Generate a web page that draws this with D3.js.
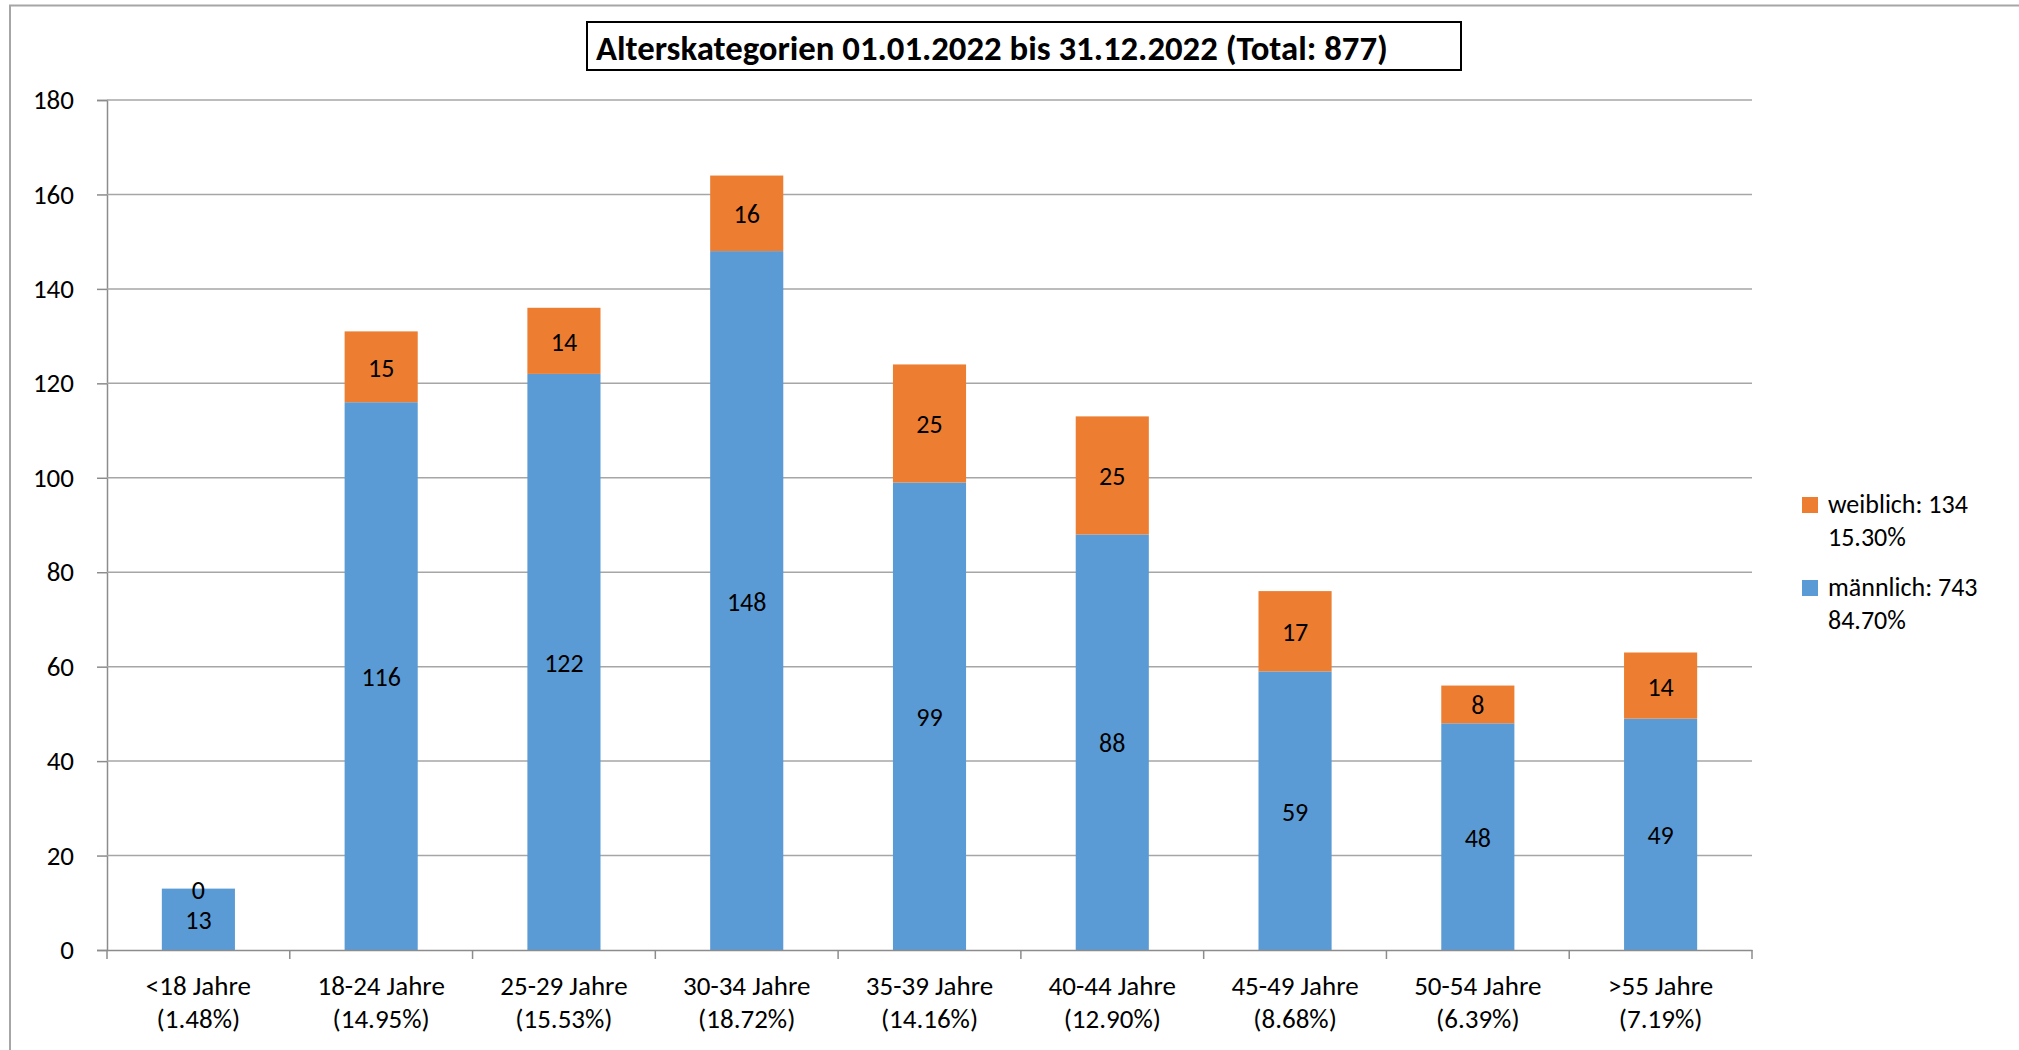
<!DOCTYPE html>
<html>
<head>
<meta charset="utf-8">
<script src="https://cdn.jsdelivr.net/npm/d3@7"></script>
<style>
  body { margin: 0; background: #fff; }
  svg { display: block; font-family: Carlito, Calibri, Lato, sans-serif; }
</style>
</head>
<body>
<div id="chart"></div>
<script>
const categories = ["<18 Jahre", "18-24 Jahre", "25-29 Jahre", "30-34 Jahre", "35-39 Jahre",
  "40-44 Jahre", "45-49 Jahre", "50-54 Jahre", ">55 Jahre"];
const shares = ["(1.48%)", "(14.95%)", "(15.53%)", "(18.72%)", "(14.16%)",
  "(12.90%)", "(8.68%)", "(6.39%)", "(7.19%)"];
const maennlich = [13, 116, 122, 148, 99, 88, 59, 48, 49];
const weiblich = [0, 15, 14, 16, 25, 25, 17, 8, 14];
const yTicks = [0, 20, 40, 60, 80, 100, 120, 140, 160, 180];
const legendItems = [
  {key: "weiblich", lines: ["weiblich: 134", "15.30%"]},
  {key: "maennlich", lines: ["männlich: 743", "84.70%"]}
];
const title = "Alterskategorien 01.01.2022 bis 31.12.2022 (Total: 877)";

const W = 2019, H = 1050;
const m = {left: 107, right: 2019 - 1752, top: 100, bottom: 1050 - 950};
const colors = {maennlich: "#5B9BD5", weiblich: "#ED7D31"};

const rows = categories.map((c, i) => ({cat: c, maennlich: maennlich[i], weiblich: weiblich[i]}));
const series = d3.stack().keys(["maennlich", "weiblich"])(rows);

const svg = d3.select("#chart").append("svg")
  .attr("width", W).attr("height", H);

// outer chart border (runs off the picture right and bottom)
svg.append("path")
  .attr("d", `M10,${H + 5}V5.5H${W + 5}`)
  .attr("fill", "none").attr("stroke", "#a6a6a6").attr("stroke-width", 2);

const x = d3.scaleBand().domain(categories).range([m.left, W - m.right]).paddingInner(0.6).paddingOuter(0.3);
const xb = d3.scaleBand().domain(categories).range([m.left, W - m.right]);
const y = d3.scaleLinear().domain([0, 180]).range([H - m.bottom, m.top]);

// gridlines + y axis
const yAxis = svg.append("g")
  .attr("transform", `translate(${m.left},0)`)
  .call(d3.axisLeft(y).tickValues(yTicks).tickSize(10).tickPadding(23));
yAxis.select(".domain").attr("stroke", "#8c8c8c").attr("stroke-width", 1.5);
yAxis.selectAll(".tick line").attr("stroke", "#8c8c8c").attr("stroke-width", 1.5);
yAxis.selectAll(".tick text").attr("font-size", 27).attr("fill", "#000")
  .style("font-family", "Carlito, Calibri, Lato, sans-serif");

svg.append("g").selectAll("line")
  .data(yTicks.filter(t => t > 0))
  .join("line")
  .attr("x1", m.left).attr("x2", W - m.right)
  .attr("y1", d => y(d)).attr("y2", d => y(d))
  .attr("stroke", "#a6a6a6").attr("stroke-width", 1.5);

// bars
svg.append("g").selectAll("g")
  .data(series)
  .join("g")
  .attr("fill", d => colors[d.key])
  .selectAll("rect")
  .data(d => d)
  .join("rect")
  .attr("x", d => x(d.data.cat))
  .attr("width", x.bandwidth())
  .attr("y", d => y(d[1]))
  .attr("height", d => y(d[0]) - y(d[1]));

// x axis
const xAxis = svg.append("g")
  .attr("transform", `translate(0,${H - m.bottom})`)
  .call(d3.axisBottom(xb).tickSize(0).tickFormat(""));
xAxis.select(".domain").attr("stroke", "#8c8c8c").attr("stroke-width", 1.5);
svg.append("g").selectAll("line")
  .data(d3.range(categories.length + 1))
  .join("line")
  .attr("x1", i => m.left + i * xb.step()).attr("x2", i => m.left + i * xb.step())
  .attr("y1", H - m.bottom).attr("y2", H - m.bottom + 9)
  .attr("stroke", "#8c8c8c").attr("stroke-width", 1.5);

const xl = svg.append("g").selectAll("text")
  .data(categories)
  .join("text")
  .attr("text-anchor", "middle")
  .attr("font-size", 27)
  .attr("x", d => xb(d) + xb.bandwidth() / 2);
xl.append("tspan").attr("x", d => xb(d) + xb.bandwidth() / 2).attr("y", 995).text(d => d);
xl.append("tspan").attr("x", d => xb(d) + xb.bandwidth() / 2).attr("y", 1028).text((d, i) => shares[i]);

// value labels
svg.append("g").selectAll("g")
  .data(series)
  .join("g")
  .selectAll("text")
  .data(d => d.map(v => ({v, val: v.data[d.key]})))
  .join("text")
  .attr("text-anchor", "middle")
  .attr("dominant-baseline", "central")
  .attr("font-size", 26)
  .attr("x", d => x(d.v.data.cat) + x.bandwidth() / 2)
  .attr("y", d => (y(d.v[0]) + y(d.v[1])) / 2 + 1)
  .text(d => d.val);

// legend
const lg = svg.append("g").selectAll("g")
  .data(legendItems)
  .join("g")
  .attr("transform", (d, i) => `translate(1802,${497 + i * 83})`);
lg.append("rect").attr("width", 16).attr("height", 16).attr("fill", d => colors[d.key]);
lg.append("text").attr("font-size", 26)
  .selectAll("tspan")
  .data(d => d.lines)
  .join("tspan")
  .attr("x", 26).attr("y", (d, i) => 16 + i * 33)
  .text(d => d);

// title
const tt = svg.append("text")
  .attr("x", 596).attr("y", 60)
  .attr("font-size", 31).attr("font-weight", "bold")
  .text(title);
const tw = tt.node().getComputedTextLength();
tt.attr("font-size", 31 * 792 / tw);
svg.append("rect")
  .attr("x", 587).attr("y", 22).attr("width", 874).attr("height", 48)
  .attr("fill", "none").attr("stroke", "#000").attr("stroke-width", 2);
</script>
</body>
</html>
